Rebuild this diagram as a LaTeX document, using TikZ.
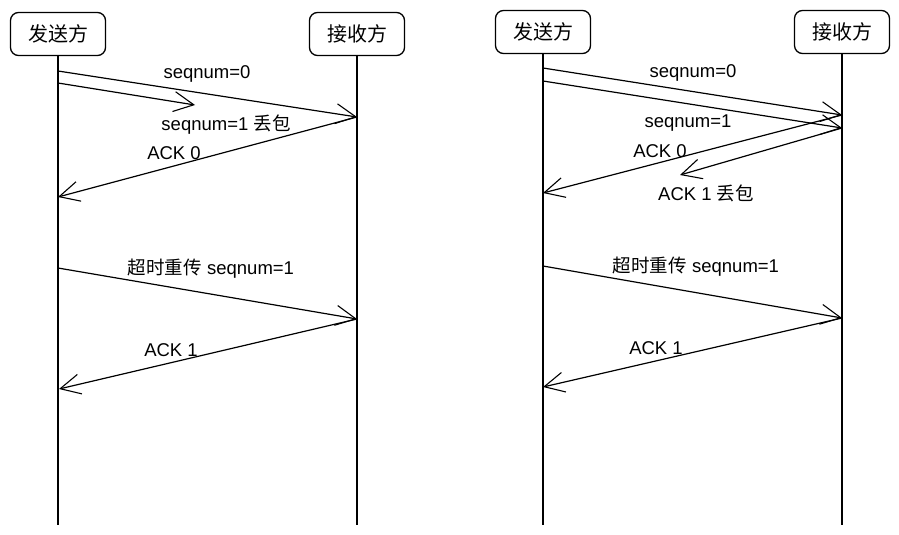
\documentclass[tikz,border=0pt]{standalone}
\usepackage{fontspec}
\setmainfont{Liberation Sans}
\newfontfamily\cjk{Noto Sans CJK SC}
\usetikzlibrary{arrows.meta}
\newcommand{\zh}[1]{{\cjk #1}}
\begin{document}
\begin{tikzpicture}[x=1pt,y=-1pt,
  every node/.style={font=\fontsize{18.5}{22}\selectfont},
  actor/.style={draw, rounded corners=8pt, line width=1.3pt, minimum width=95pt, minimum height=43pt, inner sep=0pt, font=\fontsize{20}{24}\selectfont},
  life/.style={line width=1.1pt},
  msg/.style={line width=1.2pt, -{Straight Barb[length=20pt,width=20pt,line width=1.1pt]}},
  lbl/.style={inner sep=0pt}]
\useasboundingbox (0,0) rectangle (899,535);
% ---------- left diagram ----------
\node[actor] (sL) at (58,34) {\zh{发送方}};
\node[actor] (rL) at (357,34) {\zh{接收方}};
\coordinate (sLend) at (58,525);
\coordinate (rLend) at (357,525);
\draw[life] (sL.south) -- (sLend);
\draw[life] (rL.south) -- (rLend);
\coordinate (a1) at (58,71);
\coordinate (a2) at (58,83);
\coordinate (a3) at (357,117);
\coordinate (a4) at (195,105);
\coordinate (a5) at (58,197);
\coordinate (a6) at (58,268);
\coordinate (a7) at (357,319);
\coordinate (a8) at (59,389);
\draw[msg] (a1) -- (a3);
\draw[msg] (a2) -- (a4);
\draw[msg] (a3) -- (a5);
\draw[msg] (a6) -- (a7);
\draw[msg] (a7) -- (a8);
\node[lbl] (l1) at (207,74) {seqnum=0};
\node[lbl] (l2) at (226,125) {seqnum=1 \zh{丢包}};
\node[lbl] (l3) at (174,153) {ACK 0};
\node[lbl] (l4) at (211,269) {\zh{超时重传} seqnum=1};
\node[lbl] (l5) at (171,350) {ACK 1};
% ---------- right diagram ----------
\node[actor] (sR) at (543,32) {\zh{发送方}};
\node[actor] (rR) at (842,32) {\zh{接收方}};
\coordinate (sRend) at (543,525);
\coordinate (rRend) at (842,525);
\draw[life] (sR.south) -- (sRend);
\draw[life] (rR.south) -- (rRend);
\coordinate (b1) at (543,68);
\coordinate (b2) at (543,81);
\coordinate (b3) at (842,115);
\coordinate (b4) at (842,128);
\coordinate (b5) at (543,193);
\coordinate (b6) at (680,175);
\coordinate (b7) at (543,266);
\coordinate (b8) at (842,318);
\coordinate (b9) at (543,387);
\draw[msg] (b1) -- (b3);
\draw[msg] (b2) -- (b4);
\draw[msg] (b3) -- (b5);
\draw[msg] (b4) -- (b6);
\draw[msg] (b7) -- (b8);
\draw[msg] (b8) -- (b9);
\node[lbl] (m1) at (693,73) {seqnum=0};
\node[lbl] (m2) at (688,123) {seqnum=1};
\node[lbl] (m3) at (660,151) {ACK 0};
\node[lbl] (m4) at (706,193) {ACK 1 \zh{丢包}};
\node[lbl] (m5) at (696,267) {\zh{超时重传} seqnum=1};
\node[lbl] (m6) at (656,348) {ACK 1};
\end{tikzpicture}
\end{document}
